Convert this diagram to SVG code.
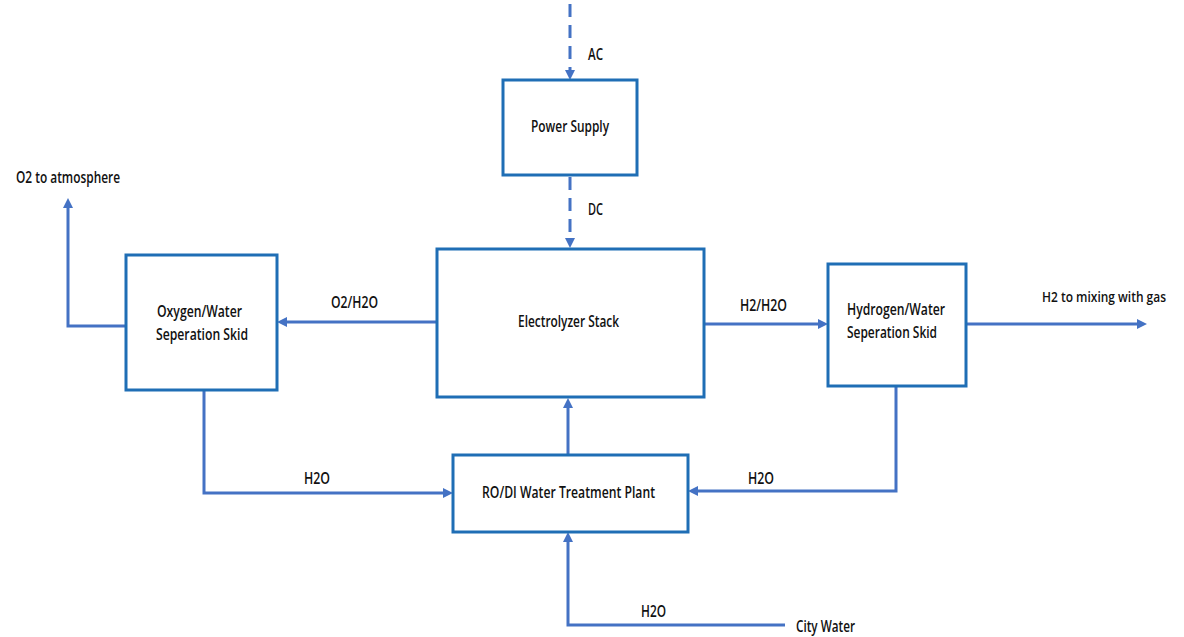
<svg xmlns="http://www.w3.org/2000/svg" width="1184" height="637" viewBox="0 0 1184 637">
<style>
.box{fill:#fff;stroke:#1f6eb5;stroke-width:3}
.conn{fill:none;stroke:#4472c4;stroke-width:3}
.dash{stroke-dasharray:13 8}
text{font-family:"Open Sans","Liberation Sans",Arial,sans-serif;font-weight:600;font-size:15.5px;fill:#111}
</style>
<defs>
<marker id="ah" markerUnits="userSpaceOnUse" viewBox="0 0 10 10" refX="5" refY="5" markerWidth="11" markerHeight="10" orient="auto">
<path d="M0,0 L10,5 L0,10 z" fill="#4472c4"/>
</marker>
</defs>
<rect width="1184" height="637" fill="#fff"/>
<g id="connectors">
<path class="conn dash" d="M570,4 V75" marker-end="url(#ah)"/>
<path class="conn dash" d="M570,177 V243" marker-end="url(#ah)"/>
<path class="conn" d="M437,322 H282" marker-end="url(#ah)"/>
<path class="conn" d="M704,324 H823" marker-end="url(#ah)"/>
<path class="conn" d="M966,324 H1142" marker-end="url(#ah)"/>
<path class="conn" d="M126,326 H68 V203" marker-end="url(#ah)"/>
<path class="conn" d="M204,390 V493 H448" marker-end="url(#ah)"/>
<path class="conn" d="M896,386 V491 H693" marker-end="url(#ah)"/>
<path class="conn" d="M568,455 V403" marker-end="url(#ah)"/>
<path class="conn" d="M785,625 H568 V537" marker-end="url(#ah)"/>
</g>
<g id="labels">
<text x="588" y="60" textLength="15" lengthAdjust="spacingAndGlyphs">AC</text>
<text x="588" y="215" textLength="15" lengthAdjust="spacingAndGlyphs">DC</text>
<text x="16" y="183" textLength="104" lengthAdjust="spacingAndGlyphs">O2 to atmosphere</text>
<text x="331" y="308" textLength="47" lengthAdjust="spacingAndGlyphs">O2/H2O</text>
<text x="740" y="311" textLength="47" lengthAdjust="spacingAndGlyphs">H2/H2O</text>
<text x="1042" y="302" style="font-size:13.5px" textLength="124" lengthAdjust="spacingAndGlyphs">H2 to mixing with gas</text>
<text x="304" y="484" textLength="26" lengthAdjust="spacingAndGlyphs">H2O</text>
<text x="748" y="484" textLength="26" lengthAdjust="spacingAndGlyphs">H2O</text>
<text x="641" y="617" textLength="25" lengthAdjust="spacingAndGlyphs">H2O</text>
<text x="796" y="632" textLength="59" lengthAdjust="spacingAndGlyphs">City Water</text>
</g>
<g id="power-supply">
<rect class="box" x="503" y="80" width="134" height="95"/>
<text x="531" y="132" textLength="78" lengthAdjust="spacingAndGlyphs">Power Supply</text>
</g>
<g id="electrolyzer-stack">
<rect class="box" x="437" y="249" width="267" height="148"/>
<text x="518" y="327" textLength="101" lengthAdjust="spacingAndGlyphs">Electrolyzer Stack</text>
</g>
<g id="oxygen-skid">
<rect class="box" x="126" y="255" width="151" height="135"/>
<text x="157" y="317" textLength="85" lengthAdjust="spacingAndGlyphs">Oxygen/Water</text>
<text x="156" y="340" textLength="92" lengthAdjust="spacingAndGlyphs">Seperation Skid</text>
</g>
<g id="hydrogen-skid">
<rect class="box" x="828" y="264" width="138" height="122"/>
<text x="847" y="315" textLength="98" lengthAdjust="spacingAndGlyphs">Hydrogen/Water</text>
<text x="847" y="338" textLength="90" lengthAdjust="spacingAndGlyphs">Seperation Skid</text>
</g>
<g id="ro-di-plant">
<rect class="box" x="453" y="455" width="235" height="77"/>
<text x="482" y="498" textLength="173" lengthAdjust="spacingAndGlyphs">RO/DI Water Treatment Plant</text>
</g>
</svg>
